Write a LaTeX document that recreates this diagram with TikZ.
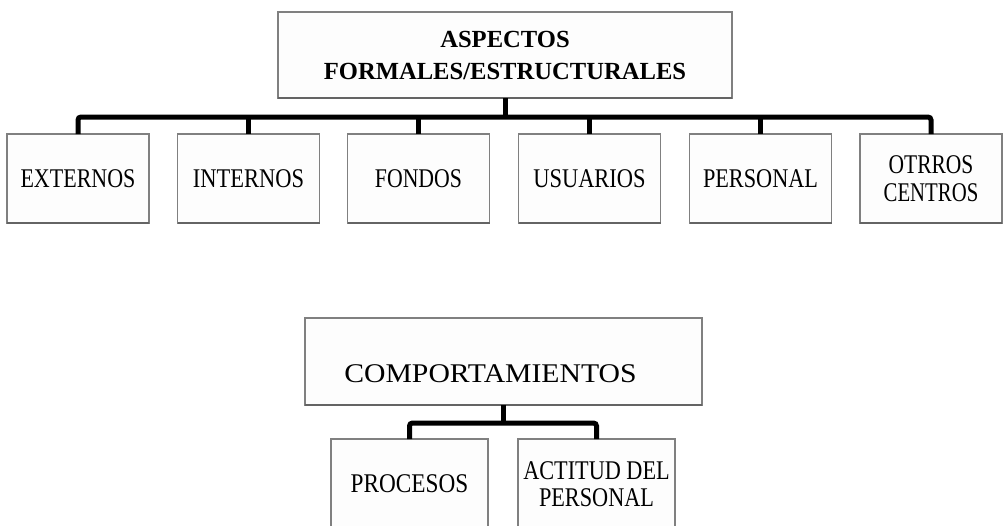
\documentclass[tikz,border=0pt]{standalone}
\usepackage{fontspec}
\setmainfont{Liberation Serif}
\usepackage{graphicx}
\newcommand{\hsq}[2]{\scalebox{#1}[1]{#2}}
\begin{document}
\begin{tikzpicture}[x=1pt,y=-1pt,
  boxbase/.style={draw={rgb,255:red,128;green,128;blue,128}, line width=1.4pt,
    fill={rgb,255:red,253;green,253;blue,253}, inner sep=0pt, outer sep=0pt, align=center},
  titlebox/.style={boxbase, minimum width=454pt, minimum height=86pt,
    font=\fontsize{24.6}{32}\selectfont\bfseries},
  childbox/.style={boxbase, minimum width=142pt, minimum height=89pt,
    font=\fontsize{27}{27.5}\selectfont},
  midbox/.style={boxbase, minimum width=397pt, minimum height=87pt,
    font=\fontsize{27}{27}\selectfont, text height=41pt, text depth=0pt},
  lowbox/.style={boxbase, minimum width=157pt, minimum height=90pt,
    font=\fontsize{27}{27.5}\selectfont},
  shade/.style={line width=2.6pt, draw={rgb,255:red,100;green,100;blue,100}},
  conn/.style={line width=5pt, rounded corners=3pt, black}
]
\clip (0,0) rectangle (1003,525);
\fill[white] (0,0) rectangle (1003,525);

% upper chart
\node[titlebox] (top) at (505,55) {ASPECTOS\\FORMALES/ESTRUCTURALES};
\node[childbox] (c1) at (78,178.5) {\hsq{0.815}{EXTERNOS}};
\node[childbox] (c2) at (248.5,178.5) {\hsq{0.833}{INTERNOS}};
\node[childbox] (c3) at (418.5,178.5) {\hsq{0.806}{FONDOS}};
\node[childbox] (c4) at (589.5,178.5) {\hsq{0.833}{USUARIOS}};
\node[childbox] (c5) at (760.5,178.5) {\hsq{0.824}{PERSONAL}};
\node[childbox] (c6) at (931,178.5) {\hsq{0.796}{OTRROS}\\\hsq{0.769}{CENTROS}};

% lower chart
\node[midbox] (mid) at (503.5,361.5) {\hsq{1.1}{COMPORTAMIENTOS}\hspace*{26pt}};
\node[lowbox] (d1) at (409.5,484) {\hsq{0.861}{PROCESOS}};
\node[lowbox] (d2) at (596.5,484) {\hsq{0.824}{ACTITUD DEL}\\\hsq{0.824}{PERSONAL}};

% darker bottom edges
\foreach \n in {top,c1,c2,c3,c4,c5,c6,mid}
  \draw[shade] (\n.south west) -- (\n.south east);

% connectors
\draw[conn] (top.south) -- ++(0,19);
\draw[conn] (c1.north) -- ++(0,-17) -| (c6.north);
\foreach \n in {c2,c3,c4,c5}
  \draw[conn] (\n.north) -- ++(0,-17);

\draw[conn] (mid.south) -- ++(0,18);
\draw[conn] (d1.north) -- ++(0,-16) -| (d2.north);
\end{tikzpicture}
\end{document}
